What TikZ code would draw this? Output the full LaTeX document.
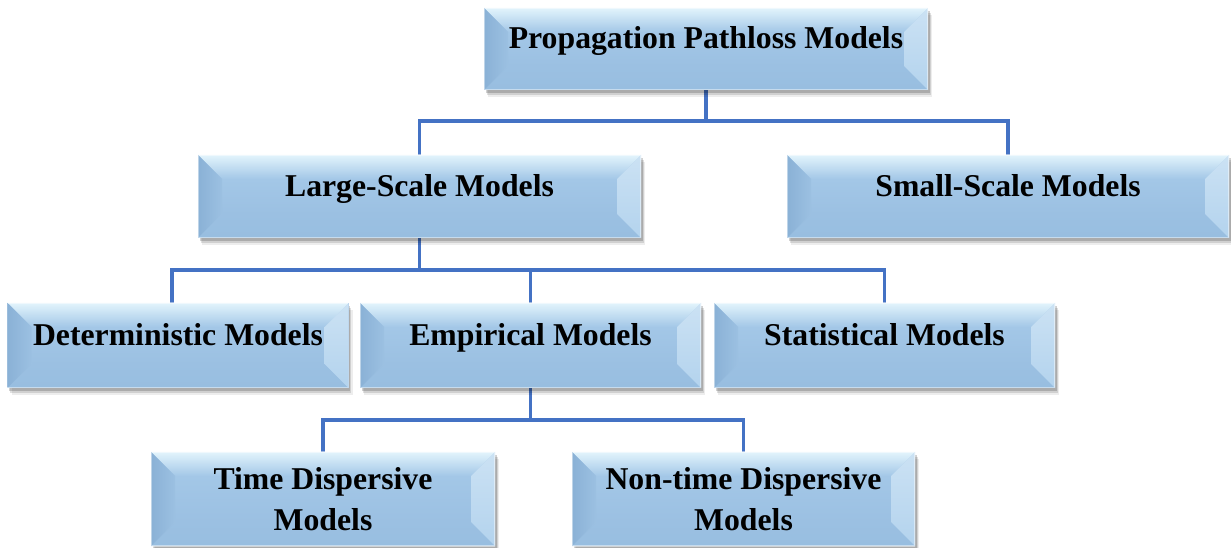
\documentclass[tikz,border=0pt]{standalone}
\usepackage{fontspec}
\setmainfont{Liberation Serif}
\usetikzlibrary{calc,shadows}

\definecolor{linkblue}{HTML}{4472C4}
\definecolor{faceblue}{HTML}{A3C7E7}
\definecolor{facelow}{HTML}{9BC0E2}
\definecolor{bevtop}{HTML}{E2F4FC}
\definecolor{bevleft}{HTML}{8AB1D6}
\definecolor{bevright}{HTML}{BAD8F0}
\definecolor{bevbot}{HTML}{98BEE0}

\pgfdeclarelayer{background}
\pgfsetlayers{background,main}

\newcommand\bevelinset{18pt}

\tikzset{
  link/.style={draw=linkblue, line width=2.4pt},
  bevelbox/.style={
    draw=none, fill=faceblue, inner sep=0pt, align=center,
    font=\fontsize{23.8}{30.75}\selectfont\bfseries,
    drop shadow={shadow xshift=1.2pt, shadow yshift=-2.2pt, opacity=0.18, fill=black},
    drop shadow={shadow xshift=2.2pt, shadow yshift=-3.6pt, opacity=0.12, fill=black},
    drop shadow={shadow xshift=3.0pt, shadow yshift=-5.0pt, opacity=0.07, fill=black},
    path picture={
      \coordinate (bnw) at (path picture bounding box.north west);
      \coordinate (bne) at (path picture bounding box.north east);
      \coordinate (bsw) at (path picture bounding box.south west);
      \coordinate (bse) at (path picture bounding box.south east);
      \coordinate (inw) at ($(bnw)+(\bevelinset,-\bevelinset)$);
      \coordinate (ine) at ($(bne)+(-\bevelinset,-\bevelinset)$);
      \coordinate (isw) at ($(bsw)+(\bevelinset,\bevelinset)$);
      \coordinate (ise) at ($(bse)+(-\bevelinset,\bevelinset)$);
      % face
      \shade[top color=faceblue, bottom color=facelow] (inw) rectangle (ise);
      % top bevel
      \shade[top color=bevtop, middle color=faceblue!88!bevtop, bottom color=faceblue]
        (bnw) -- (bne) -- (ine) -- (inw) -- cycle;
      % bottom bevel
      \shade[top color=facelow, bottom color=bevbot]
        (bsw) -- (bse) -- (ise) -- (isw) -- cycle;
      % left bevel
      \shade[left color=bevleft, right color=faceblue!70!bevleft]
        (bnw) -- (inw) -- (isw) -- (bsw) -- cycle;
      % right bevel
      \shade[top color=bevright!75!white, bottom color=bevright!70!faceblue]
        (bne) -- (ine) -- (ise) -- (bse) -- cycle;
      % thin light rim
      \draw[white, opacity=0.45, line width=0.8pt]
        (bnw) rectangle (bse);
    }
  },
  oneline/.style={bevelbox, text height=16pt, text depth=16pt},
  twoline/.style={bevelbox}
}

\begin{document}
\begin{tikzpicture}[x=0.75pt, y=-0.75pt]
  \useasboundingbox (0,0) rectangle (1231,548);

  % model hierarchy boxes
  \node[oneline, minimum width=333pt, minimum height=61.5pt] (top) at (706,49)
    {Propagation Pathloss Models};

  \node[oneline, minimum width=332.25pt, minimum height=62.25pt] (large) at (419.5,196.5)
    {Large-Scale Models};
  \node[oneline, minimum width=331.5pt, minimum height=62.25pt] (small) at (1008,196.5)
    {Small-Scale Models};

  \node[oneline, minimum width=255.75pt, minimum height=63.75pt] (det) at (178,345.5)
    {Deterministic Models};
  \node[oneline, minimum width=255.75pt, minimum height=63.75pt] (emp) at (530.5,345.5)
    {Empirical Models};
  \node[oneline, minimum width=255.75pt, minimum height=63.75pt] (stat) at (884.5,345.5)
    {Statistical Models};

  \node[twoline, minimum width=258pt, minimum height=70.5pt] (time) at (323,499)
    {Time Dispersive\\Models};
  \node[twoline, minimum width=257.25pt, minimum height=70.5pt] (nontime) at (743.5,499)
    {Non-time Dispersive\\Models};

  % bus levels of the tree connectors
  \coordinate (busA) at (0,121);
  \coordinate (busB) at (0,270);
  \coordinate (busC) at (0,420);
  % drop point on the deterministic box, slightly left of its centre
  \coordinate (detdrop) at ([xshift=-4.5pt]det.north);

  \begin{pgfonlayer}{background}
    \draw[link] (top.south) -- (top.south |- busA) -| (large.north);
    \draw[link] (top.south |- busA) -| (small.north);

    \draw[link] (large.south) -- (large.south |- busB) -| (detdrop);
    \draw[link] (large.south |- busB) -| (emp.north);
    \draw[link] (large.south |- busB) -| (stat.north);

    \draw[link] (emp.south) -- (emp.south |- busC) -| (time.north);
    \draw[link] (emp.south |- busC) -| (nontime.north);
  \end{pgfonlayer}
\end{tikzpicture}
\end{document}
